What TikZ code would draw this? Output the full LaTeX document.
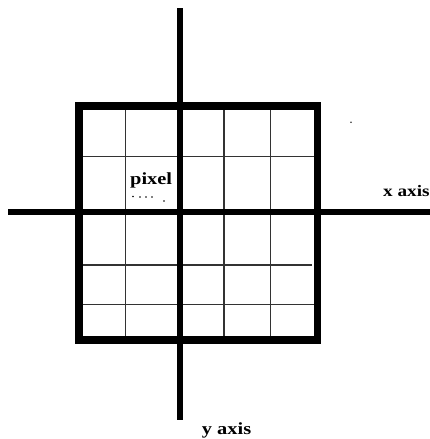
\documentclass[tikz,border=0pt]{standalone}
\usepackage{fontspec}
\newfontfamily\lblfont[FakeStretch=1.2]{Liberation Serif}
\definecolor{gridgray}{HTML}{333333}
\tikzset{
  axisline/.style={line width=5.5pt, black},
  frame/.style={line width=7.8pt, black, line join=miter},
  gridline/.style={line width=1.4pt, gridgray},
  lbl/.style={anchor=base west, inner sep=0pt, font=\lblfont\bfseries\fontsize{17}{20}\selectfont},
  speck/.style={fill=black, draw=none}
}
\begin{document}
\begin{tikzpicture}[x=1pt,y=-1pt]
\useasboundingbox (0,0) rectangle (430,439);
% grid cells inside the frame
\foreach \gx in {125.7,224,270.7}
  \draw[gridline] (\gx,106) -- (\gx,340);
\foreach \gy in {156.7,304.3}
  \draw[gridline] (79,\gy) -- (317,\gy);
\draw[gridline] (79,265) -- (311.7,265);
% outer frame
\draw[frame] (79,106) rectangle (317.5,340);
% axes
\draw[axisline] (8,212) -- (430,212);
\draw[axisline] (180,8) -- (180,420);
% labels
\node[lbl] (pix) at (130,184) {pixel};
\node[lbl, font=\lblfont\bfseries\fontsize{16}{19}\selectfont] (xax) at (383,196) {x axis};
\node[lbl] (yax) at (201.7,434) {y axis};
% small dots under the label
\foreach \dx/\dy in {133/196.5,140/197,146/197,152/197,164/201}
  \fill[speck] (\dx,\dy) circle (0.95);
\fill[speck, gridgray] (351,122.3) circle (0.9);
\end{tikzpicture}
\end{document}
